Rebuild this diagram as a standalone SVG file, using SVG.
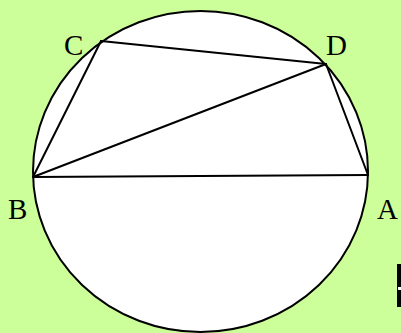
<svg xmlns="http://www.w3.org/2000/svg" width="401" height="333" viewBox="0 0 401 333">
<style>
.lbl{font-family:"Liberation Serif","Times New Roman",serif;font-size:29px;fill:#000}
.ln{stroke:#000;stroke-width:2;fill:none;stroke-linecap:round}
</style>
<rect x="0" y="0" width="401" height="333" fill="#ccff99"/>
<g id="circle"><ellipse cx="200.5" cy="171.5" rx="167.5" ry="160.5" fill="#fff" stroke="#000" stroke-width="2"/></g>
<g id="connectors">
<line class="ln" x1="101" y1="41" x2="326" y2="64"/>
<line class="ln" x1="326" y1="64" x2="368" y2="175"/>
<line class="ln" x1="368" y1="175" x2="33" y2="177"/>
<line class="ln" x1="33" y1="177" x2="101" y2="41"/>
<line class="ln" x1="33" y1="177" x2="326" y2="64"/>
</g>
<g id="C"><text class="lbl" x="64" y="55">C</text></g>
<g id="D"><text class="lbl" x="326" y="55">D</text></g>
<g id="B"><text class="lbl" x="8" y="219">B</text></g>
<g id="A"><text class="lbl" x="377" y="219">A</text></g>
<g id="mark"><rect x="397" y="264" width="4" height="43" fill="#000"/><rect x="398" y="287" width="3" height="3" fill="#fff"/></g>
</svg>
